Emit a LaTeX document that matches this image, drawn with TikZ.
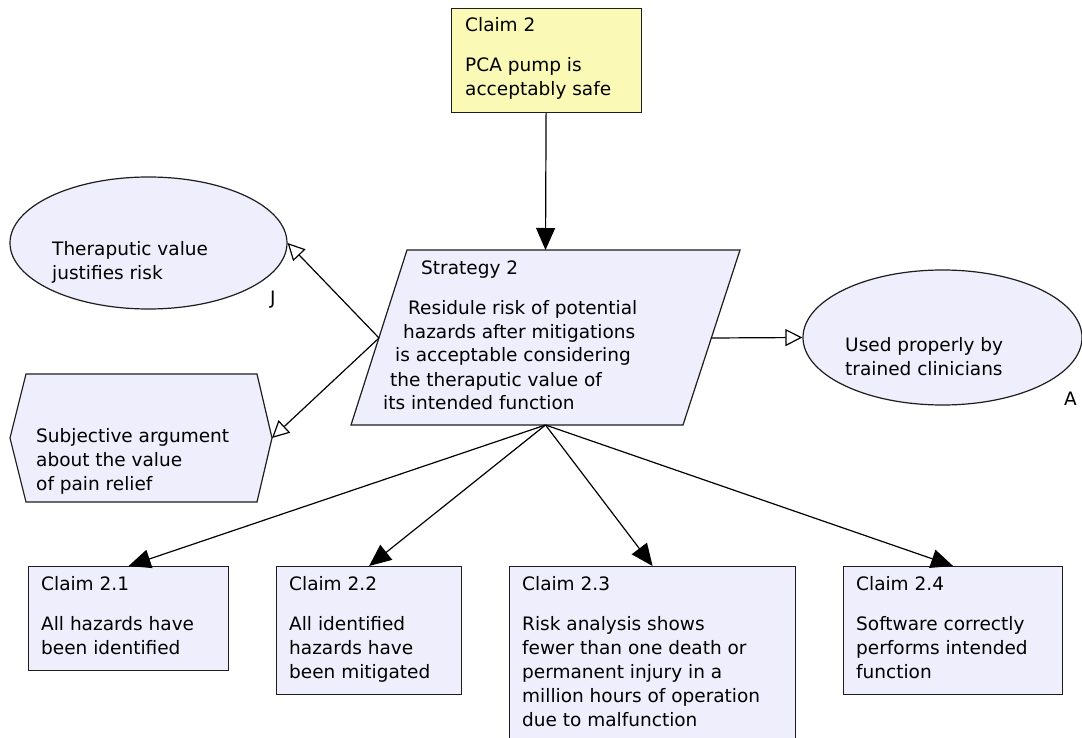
\documentclass[tikz,border=0pt]{standalone}
\usepackage{fontspec}
\setmainfont{DejaVu Sans}
\usetikzlibrary{arrows.meta,shapes.geometric}

\definecolor{goalfill}{RGB}{238,238,252}
\definecolor{topfill}{RGB}{250,250,182}
\definecolor{edgegray}{RGB}{30,30,30}

% top-aligned block of lines; the node's base is the first baseline
\newcommand{\gsntext}[1]{\parbox[t]{300pt}{\raggedright #1}}

\begin{document}
\begin{tikzpicture}[x=1pt,y=-1pt,
  every node/.style={font=\fontsize{18.5}{24}\selectfont},
  shapeline/.style={draw=edgegray, line width=1.2pt},
  claimbox/.style={shapeline, fill=goalfill, rectangle, anchor=north west, inner sep=0pt},
  ellipsebox/.style={shapeline, fill=goalfill, ellipse, inner sep=0pt},
  txt/.style={anchor=base west, inner sep=0pt, text=black},
  solved/.style={draw=black, line width=1.2pt, -{Triangle[length=22pt,width=19pt]}},
  incontext/.style={draw=black, line width=1.2pt, -{Triangle[length=17pt,width=17pt,fill=white]}},
]
\useasboundingbox (0,0) rectangle (1082,738);
\fill[white] (0,0) rectangle (1082,738);

% top-level claim
\node[claimbox, fill=topfill, minimum width=190pt, minimum height=104pt] (c2) at (450.5,8) {};
\node[txt] (c2t) at (465,32) {\gsntext{Claim 2\\[16pt]PCA pump is\\acceptably safe}};

% strategy (parallelogram) and its ports
\draw[shapeline, fill=goalfill] (407,250) -- (740,250) -- (683,425) -- (351,425) -- cycle;
\coordinate (sTop) at (545.5,250);
\coordinate (sBot) at (545.5,425);
\coordinate (sLeft) at (379,338);
\coordinate (sRight) at (711,338);
\node[txt] (st) at (383,274) {\gsntext{\hspace*{38pt}Strategy 2\\[16pt]%
\hspace*{25pt}Residule risk of potential\\%
\hspace*{20pt}hazards after mitigations\\%
\hspace*{12pt}is acceptable considering\\%
\hspace*{7pt}the theraputic value of\\%
its intended function}};

% justification
\node[ellipsebox, minimum width=277pt, minimum height=132pt] (jus) at (148.5,243) {};
\node[txt] (just) at (52,256) {\gsntext{Theraputic value\\justifies risk}};
\node[txt] (jtag) at (270,305) {J};

% context
\draw[shapeline, fill=goalfill] (26,374) -- (257,374) -- (272,438) -- (257,502) -- (26,502) -- (10,438) -- cycle;
\coordinate (hexR) at (272,438);
\node[txt] (ctx) at (36,442) {\gsntext{Subjective argument\\about the value\\of pain relief}};

% assumption
\node[ellipsebox, minimum width=279pt, minimum height=135pt] (asm) at (942.5,337.5) {};
\node[txt] (asmt) at (845,351) {\gsntext{Used properly by\\trained clinicians}};
\node[txt] (atag) at (1064,405) {A};

% sub-claims
\node[claimbox, minimum width=200pt, minimum height=104pt] (c21) at (28,566) {};
\node[txt] (c21t) at (41,590) {\gsntext{Claim 2.1\\[16pt]All hazards have\\been identified}};

\node[claimbox, minimum width=185pt, minimum height=128pt] (c22) at (276,566) {};
\node[txt] (c22t) at (289,590) {\gsntext{Claim 2.2\\[16pt]All identified\\hazards have\\been mitigated}};

\node[claimbox, minimum width=286pt, minimum height=180pt] (c23) at (509,566) {};
\node[txt] (c23t) at (522,590) {\gsntext{Claim 2.3\\[16pt]Risk analysis shows\\fewer than one death or\\permanent injury in a\\million hours of operation\\due to malfunction}};

\node[claimbox, minimum width=219pt, minimum height=128pt] (c24) at (843,566) {};
\node[txt] (c24t) at (856,590) {\gsntext{Claim 2.4\\[16pt]Software correctly\\performs intended\\function}};

% connectors
\draw[solved] (c2.south) -- (sTop);
\draw[incontext] (sLeft) -- (jus.east);
\draw[incontext] (sLeft) -- (hexR);
\draw[incontext] (sRight) -- (asm.west);
\draw[solved] (sBot) -- (c21.north);
\draw[solved] (sBot) -- (c22.north);
\draw[solved] (sBot) -- (c23.north);
\draw[solved] (sBot) -- (c24.north);
\end{tikzpicture}
\end{document}
